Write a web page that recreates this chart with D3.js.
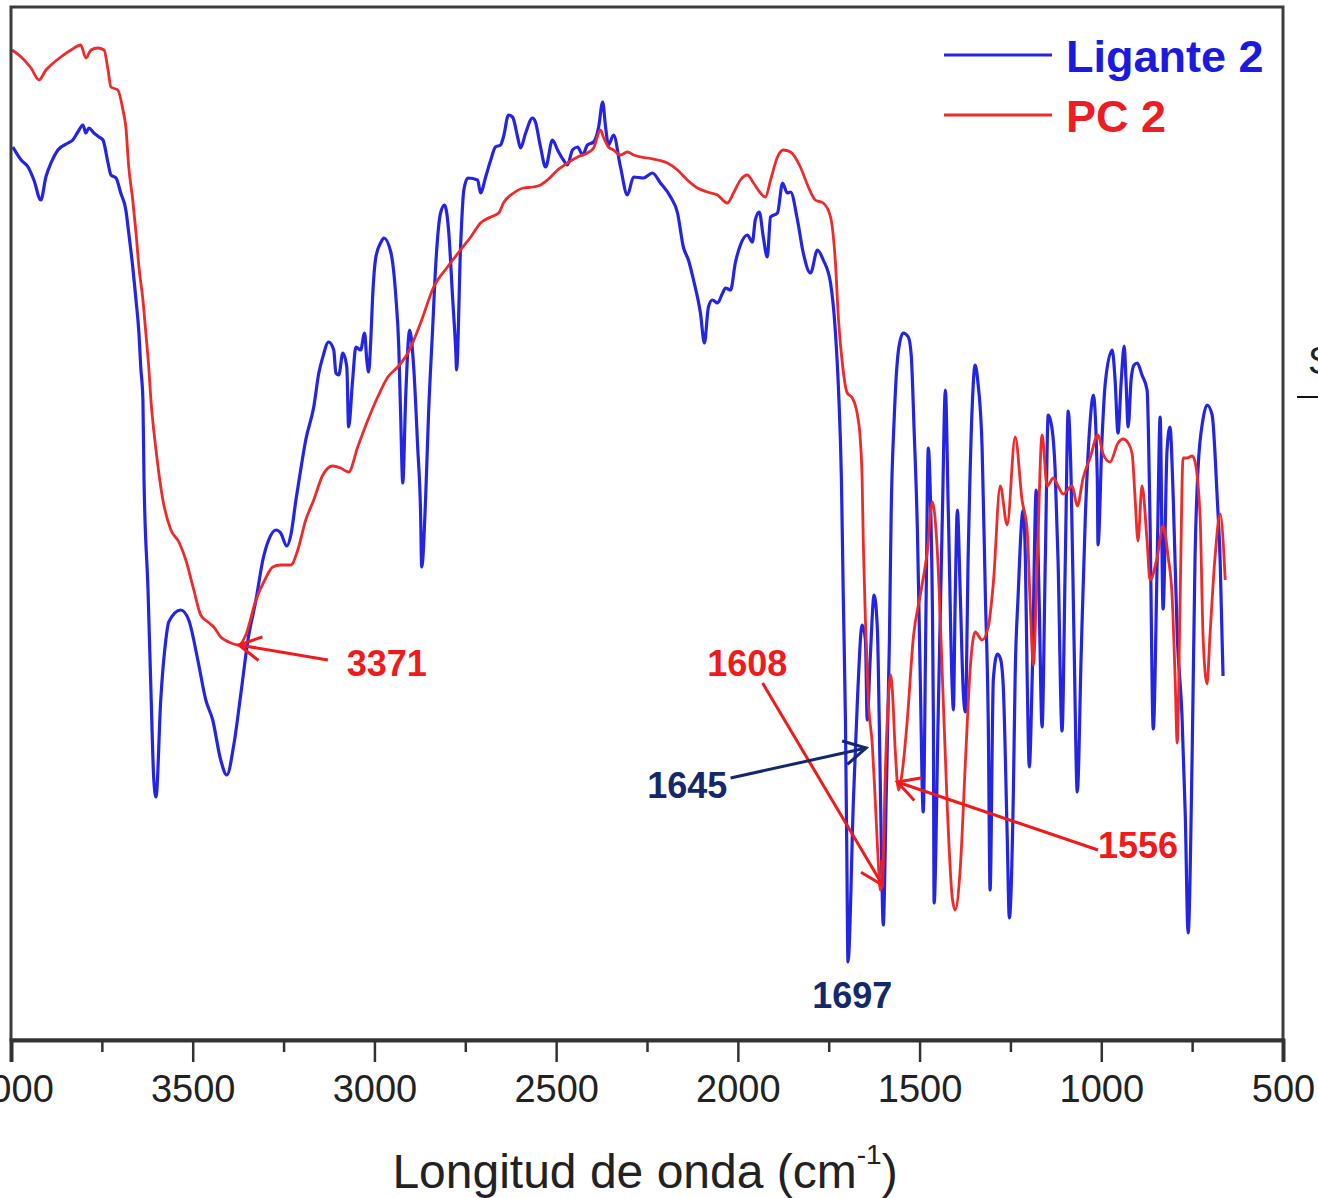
<!DOCTYPE html>
<html>
<head>
<meta charset="utf-8">
<script src="https://cdn.jsdelivr.net/npm/d3@7"></script>
<style>
  body { margin: 0; background: #fff; }
  svg { display: block; }
</style>
</head>
<body>
<svg id="chart" width="1318" height="1198"></svg>
<script>
// Ligante 2 (blue) - wavenumber (cm-1) / transmittance (a.u.)
const ligWn = [
  3995, 3972, 3953, 3937, 3918, 3904, 3890, 3871, 3843, 3830,
  3816, 3802, 3794, 3786, 3772, 3758, 3747, 3733, 3725, 3711,
  3698, 3684, 3676, 3665, 3656, 3648, 3643, 3637, 3634, 3623,
  3615, 3607, 3601, 3588, 3574, 3566, 3533, 3511, 3486, 3464,
  3445, 3423, 3406, 3387, 3368, 3348, 3326, 3307, 3291, 3271,
  3258, 3241, 3230, 3216, 3203, 3189, 3167, 3153, 3142, 3126,
  3112, 3106, 3098, 3087, 3076, 3071, 3060, 3051, 3038, 3027,
  3021, 3016, 3010, 3005, 2996, 2983, 2974, 2955, 2941, 2933,
  2928, 2922, 2914, 2903, 2892, 2881, 2873, 2870, 2859, 2851,
  2840, 2831, 2818, 2807, 2796, 2785, 2776, 2774, 2763, 2754,
  2743, 2716, 2708, 2694, 2680, 2667, 2653, 2645, 2631, 2620,
  2606, 2598, 2584, 2565, 2557, 2543, 2529, 2510, 2496, 2480,
  2469, 2455, 2441, 2427, 2414, 2397, 2383, 2372, 2364, 2356,
  2342, 2323, 2304, 2287, 2260, 2235, 2213, 2185, 2166, 2150,
  2136, 2122, 2103, 2092, 2081, 2070, 2056, 2042, 2034, 2020,
  2007, 1993, 1974, 1960, 1952, 1941, 1930, 1919, 1910, 1891,
  1877, 1864, 1855, 1836, 1820, 1800, 1781, 1765, 1745, 1732,
  1723, 1715, 1710, 1704, 1700, 1697, 1682, 1671, 1658, 1649,
  1644, 1636, 1625, 1616, 1611, 1605, 1600, 1592, 1583, 1578,
  1570, 1558, 1545, 1531, 1523, 1515, 1506, 1498, 1490, 1482,
  1476, 1470, 1465, 1462, 1460, 1449, 1437, 1429, 1421, 1410,
  1407, 1402, 1396, 1388, 1380, 1374, 1366, 1355, 1347, 1339,
  1328, 1319, 1311, 1306, 1297, 1286, 1278, 1270, 1259, 1253,
  1242, 1237, 1229, 1215, 1209, 1204, 1198, 1190, 1179, 1171,
  1163, 1154, 1146, 1135, 1127, 1119, 1108, 1099, 1091, 1083,
  1075, 1066, 1055, 1044, 1031, 1022, 1011, 1009, 998, 989,
  970, 962, 954, 945, 937, 932, 926, 918, 910, 901,
  888, 874, 866, 857, 846, 838, 830, 819, 811, 802,
  791, 778, 769, 761, 750, 742, 734, 720, 709, 695,
  681, 673, 665
];
const ligT = [
  89.3, 88.0, 87.3, 86.0, 84.0, 86.3, 87.7, 89.0, 89.7, 90.0,
  90.8, 91.5, 90.7, 91.2, 90.7, 90.3, 90.0, 87.7, 86.5, 86.2,
  84.7, 83.0, 80.7, 77.3, 74.0, 70.7, 67.3, 64.0, 56.0, 45.0,
  35.0, 26.0, 24.3, 34.0, 40.0, 41.8, 43.0, 42.0, 38.0, 34.0,
  32.0, 28.0, 26.5, 29.5, 34.5, 40.0, 44.0, 48.0, 50.0, 51.0,
  50.7, 49.4, 50.5, 54.0, 57.0, 60.0, 63.3, 66.7, 68.3, 69.8,
  69.0, 66.7, 66.5, 68.7, 67.3, 61.3, 66.0, 69.3, 69.0, 70.7,
  68.0, 66.8, 70.0, 74.3, 78.3, 79.7, 80.2, 78.8, 74.3, 69.3,
  62.7, 55.7, 64.3, 71.0, 67.3, 59.3, 52.7, 47.3, 54.3, 62.7,
  71.0, 77.7, 82.7, 83.5, 81.0, 74.3, 68.7, 67.0, 79.3, 85.0,
  86.2, 86.0, 84.7, 86.3, 88.0, 89.3, 89.5, 90.3, 92.5, 92.3,
  90.3, 89.2, 90.7, 92.2, 91.8, 89.3, 87.3, 90.0, 89.0, 88.0,
  87.5, 89.0, 89.3, 88.5, 89.5, 89.8, 91.3, 93.8, 91.3, 89.5,
  90.5, 87.3, 84.5, 86.3, 86.2, 86.7, 85.7, 84.3, 82.7, 79.3,
  78.0, 76.0, 72.7, 69.7, 73.3, 74.0, 73.7, 74.7, 75.2, 75.0,
  77.7, 79.5, 80.5, 79.8, 82.0, 82.8, 80.3, 78.3, 82.3, 82.7,
  85.7, 84.7, 84.8, 82.0, 78.7, 76.7, 79.0, 78.0, 75.7, 71.0,
  65.0, 56.0, 44.5, 32.0, 18.0, 7.8, 24.0, 34.0, 41.5, 40.0,
  32.0, 38.0, 44.5, 41.0, 32.0, 19.0, 11.5, 24.0, 40.0, 53.0,
  62.0, 69.0, 70.7, 70.3, 68.5, 61.0, 51.0, 36.0, 22.8, 44.0,
  59.2, 54.0, 44.0, 32.0, 13.7, 32.0, 53.0, 65.0, 53.0, 35.0,
  33.0, 44.0, 53.0, 44.5, 35.0, 32.8, 48.8, 63.5, 67.5, 65.6,
  59.3, 44.5, 31.9, 15.0, 36.1, 38.6, 38.2, 35.6, 20.6, 12.2,
  24.6, 36.4, 44.3, 53.0, 48.3, 36.4, 27.3, 36.4, 55.0, 44.0,
  31.3, 48.0, 62.5, 61.0, 57.0, 48.0, 30.9, 48.0, 62.9, 56.0,
  40.0, 24.8, 39.0, 52.2, 61.7, 64.5, 56.2, 49.5, 60.1, 65.7,
  69.0, 66.0, 60.7, 66.0, 69.4, 66.0, 61.3, 66.0, 67.5, 67.7,
  66.5, 65.0, 52.2, 31.1, 48.3, 62.3, 43.1, 59.0, 61.3, 54.2,
  40.4, 32.5, 22.6, 10.7, 28.5, 48.3, 57.0, 62.1, 63.5, 62.5,
  54.2, 48.0, 36.4
];

// PC 2 (red)
const pcWn = [
  3997, 3972, 3945, 3923, 3904, 3890, 3863, 3835, 3808, 3794,
  3780, 3761, 3744, 3733, 3725, 3706, 3692, 3684, 3676, 3665,
  3656, 3648, 3637, 3629, 3621, 3615, 3601, 3582, 3560, 3538,
  3519, 3497, 3478, 3458, 3442, 3423, 3401, 3373, 3354, 3326,
  3299, 3280, 3258, 3230, 3211, 3189, 3167, 3142, 3115, 3093,
  3071, 3046, 3018, 2991, 2963, 2936, 2908, 2873, 2837, 2799,
  2763, 2735, 2708, 2680, 2658, 2645, 2617, 2590, 2562, 2543,
  2524, 2496, 2469, 2441, 2414, 2397, 2378, 2370, 2356, 2342,
  2323, 2304, 2287, 2249, 2221, 2194, 2166, 2139, 2111, 2084,
  2056, 2029, 2012, 1993, 1974, 1957, 1938, 1924, 1910, 1891,
  1875, 1855, 1828, 1806, 1787, 1765, 1745, 1732, 1723, 1712,
  1699, 1685, 1671, 1663, 1658, 1655, 1649, 1641, 1630, 1622,
  1614, 1608, 1602, 1594, 1586, 1580, 1575, 1567, 1558, 1547,
  1534, 1517, 1498, 1479, 1465, 1451, 1437, 1424, 1410, 1402,
  1388, 1374, 1361, 1347, 1328, 1311, 1297, 1278, 1259, 1237,
  1218, 1204, 1196, 1187, 1176, 1163, 1149, 1132, 1119, 1105,
  1080, 1066, 1050, 1031, 1009, 995, 976, 954, 940, 926,
  915, 907, 899, 888, 874, 866, 846, 830, 816, 805,
  797, 791, 783, 775, 764, 750, 742, 728, 720, 709,
  701, 687, 673, 659
];
const pcT = [
  99.0, 98.3, 97.2, 96.0, 97.0, 97.5, 98.3, 99.0, 99.5, 98.2,
  99.0, 99.2, 99.0, 97.0, 95.3, 95.0, 93.0, 91.3, 87.3, 84.0,
  80.7, 77.3, 74.0, 70.7, 67.3, 64.0, 59.0, 54.0, 51.0, 49.8,
  48.0, 45.0, 42.5, 41.8, 41.3, 40.3, 39.8, 39.5, 40.5, 44.0,
  46.2, 47.3, 47.5, 47.5, 49.0, 52.0, 54.0, 56.5, 57.4, 57.2,
  56.8, 59.3, 62.0, 64.3, 66.3, 67.3, 68.7, 71.7, 75.3, 77.3,
  79.0, 80.3, 81.7, 82.3, 82.7, 83.7, 84.7, 85.2, 85.3, 85.5,
  86.0, 87.0, 87.7, 88.3, 88.7, 89.2, 91.0, 90.3, 89.3, 89.0,
  88.5, 88.8, 88.5, 88.2, 88.0, 87.7, 87.0, 86.0, 85.2, 84.8,
  84.5, 83.7, 84.7, 86.0, 86.5, 85.7, 84.7, 84.3, 86.0, 88.3,
  89.0, 88.8, 87.3, 85.3, 84.0, 83.7, 82.3, 78.0, 72.0, 67.5,
  64.7, 64.2, 62.5, 60.0, 56.0, 50.0, 42.0, 34.0, 29.5, 24.0,
  18.0, 15.0, 16.0, 27.0, 34.0, 36.5, 35.0, 29.0, 25.0, 27.0,
  31.9, 40.3, 44.5, 48.8, 53.8, 48.8, 36.1, 23.5, 14.2, 13.0,
  17.2, 27.7, 37.0, 40.8, 40.0, 41.3, 45.7, 55.4, 51.5, 60.3,
  54.0, 51.0, 44.0, 37.5, 48.0, 60.5, 55.4, 56.2, 55.4, 54.6,
  55.4, 53.4, 56.2, 58.2, 60.5, 58.6, 57.8, 59.7, 60.1, 59.7,
  58.6, 54.2, 49.9, 55.4, 49.9, 46.0, 48.3, 51.4, 48.3, 44.3,
  36.4, 29.7, 44.3, 58.2, 58.2, 58.4, 57.8, 52.2, 40.4, 35.6,
  40.4, 48.3, 52.6, 46.0
];

const majorTicks = [4000, 3500, 3000, 2500, 2000, 1500, 1000, 500];
const minorTicks = [3750, 3250, 2750, 2250, 1750, 1250, 750];

// peak annotations
const annText  = ['3371', '1608', '1645', '1556', '1697'];
const annColor = ['#f01a1a', '#f01a1a', '#14286a', '#f01a1a', '#14286a'];
const annLabWn = [2966, 1974, 2139, 899, 1685];
const annLabT  = [37.7, 37.7, 25.5, 19.5, 4.5];
const annTailWn = [3128, 1932, 2020, 1009, null];
const annTailT  = [38.0, 35.7, 26.2, 19.0, null];
const annTipWn  = [3373, 1602, 1647, 1561, null];
const annTipT   = [39.5, 15.5, 29.2, 25.8, null];

const seriesNames = ['Ligante 2', 'PC 2'];
const seriesColors = ['#2424e4', '#ee2a2a'];

const svg = d3.select('#chart');
const plotLeft = 11, plotRight = 1283, plotTop = 7, plotBottom = 1040;

const x = d3.scaleLinear().domain([4000, 500]).range([plotLeft, plotRight]);
const y = d3.scaleLinear().domain([0, 103.3]).range([plotBottom, plotTop]);

svg.append('defs').append('clipPath').attr('id', 'plotclip')
    .append('rect')
    .attr('x', plotLeft).attr('y', plotTop)
    .attr('width', plotRight - plotLeft).attr('height', plotBottom - plotTop);

const line = d3.line()
    .x(d => x(d[0]))
    .y(d => y(d[1]))
    .curve(d3.curveMonotoneX);

const plot = svg.append('g').attr('clip-path', 'url(#plotclip)');

const ligData = ligWn.map((w, i) => [w, ligT[i]]);
const pcData = pcWn.map((w, i) => [w, pcT[i]]);

plot.append('path')
    .datum(ligData)
    .attr('d', line)
    .attr('fill', 'none')
    .attr('stroke', seriesColors[0])
    .attr('stroke-width', 3.2)
    .attr('stroke-linejoin', 'round')

plot.append('path')
    .datum(pcData)
    .attr('d', line)
    .attr('fill', 'none')
    .attr('stroke', seriesColors[1])
    .attr('stroke-width', 2.8)
    .attr('stroke-linejoin', 'round')

// frame
svg.append('rect')
    .attr('x', plotLeft).attr('y', plotTop)
    .attr('width', plotRight - plotLeft).attr('height', plotBottom - plotTop)
    .attr('fill', 'none')
    .attr('stroke', '#3c3c3c')
    .attr('stroke-width', 3)

// x axis
const xAxis = d3.axisBottom(x)
    .tickValues(majorTicks)
    .tickSize(22)
    .tickPadding(13)
    .tickFormat(d3.format('d'));

const gx = svg.append('g')
    .attr('transform', `translate(0,${plotBottom})`)
    .call(xAxis);
gx.select('.domain').attr('stroke', '#333').attr('stroke-width', 4);
gx.selectAll('.tick line').attr('stroke', '#333').attr('stroke-width', 2.5);
gx.selectAll('.tick text')
    .attr('fill', '#222')
    .style('font-family', '"Liberation Sans", Arial, sans-serif')
    .style('font-size', '38px');

const gxMinor = svg.append('g')
    .attr('transform', `translate(0,${plotBottom})`)
    .call(d3.axisBottom(x).tickValues(minorTicks).tickSize(12).tickFormat(''));
gxMinor.select('.domain').remove();
gxMinor.selectAll('.tick line').attr('stroke', '#333').attr('stroke-width', 2.5);

// axis title
const title = svg.append('text')
    .attr('x', 645)
    .attr('y', 1188)
    .attr('text-anchor', 'middle')
    .attr('fill', '#222')
    .style('font-family', '"Liberation Sans", Arial, sans-serif')
    .style('font-size', '48px');
title.append('tspan').text('Longitud de onda (cm');
title.append('tspan').text('-1').style('font-size', '28px').attr('dy', -24);
title.append('tspan').text(')').attr('dy', 24);

// legend
const legend = svg.append('g');
seriesNames.forEach((name, i) => {
    const ly = 55 + i * 60;
    legend.append('line')
        .attr('x1', 944).attr('x2', 1052)
        .attr('y1', ly).attr('y2', ly)
        .attr('stroke', seriesColors[i])
        .attr('stroke-width', 3)
    legend.append('text')
        .attr('x', 1066)
        .attr('y', ly + 17)
        .text(name)
        .attr('fill', i == 0 ? '#1a1ae0' : '#ee1c24')
        .style('font-family', '"Liberation Sans", Arial, sans-serif')
        .style('font-weight', 'bold')
        .style('font-size', '45px')
});

// arrows with open heads
const drawArrow = (x1, y1, x2, y2, color) => {
    const ang = Math.atan2(y2 - y1, x2 - x1);
    const len = 25, spread = 0.5;
    svg.append('line')
        .attr('x1', x1).attr('y1', y1).attr('x2', x2).attr('y2', y2)
        .attr('stroke', color).attr('stroke-width', 3)
    const head = [
        [x2 - len * Math.cos(ang - spread), y2 - len * Math.sin(ang - spread)],
        [x2, y2],
        [x2 - len * Math.cos(ang + spread), y2 - len * Math.sin(ang + spread)]
    ];
    svg.append('path')
        .attr('d', d3.line()(head))
        .attr('fill', 'none')
        .attr('stroke', color)
        .attr('stroke-width', 3)
        .attr('stroke-linejoin', 'miter')
}

annText.forEach((t, i) => {
    if (annTipWn[i] != null) {
        drawArrow(x(annTailWn[i]), y(annTailT[i]), x(annTipWn[i]), y(annTipT[i]), annColor[i]);
    }
    svg.append('text')
        .attr('x', x(annLabWn[i]))
        .attr('y', y(annLabT[i]))
        .attr('dy', '0.36em')
        .attr('text-anchor', 'middle')
        .text(t)
        .attr('fill', annColor[i])
        .style('font-family', '"Liberation Sans", Arial, sans-serif')
        .style('font-weight', 'bold')
        .style('font-size', '36px')
});

// bits of the neighbouring figure at the right edge
svg.append('text')
    .attr('x', 1308).attr('y', 374)
    .text('S')
    .attr('fill', '#222')
    .style('font-family', '"Liberation Sans", Arial, sans-serif')
    .style('font-size', '38px')
svg.append('line')
    .attr('x1', 1297).attr('x2', 1318)
    .attr('y1', 397).attr('y2', 397)
    .attr('stroke', '#111').attr('stroke-width', 2)
</script>
</body>
</html>
